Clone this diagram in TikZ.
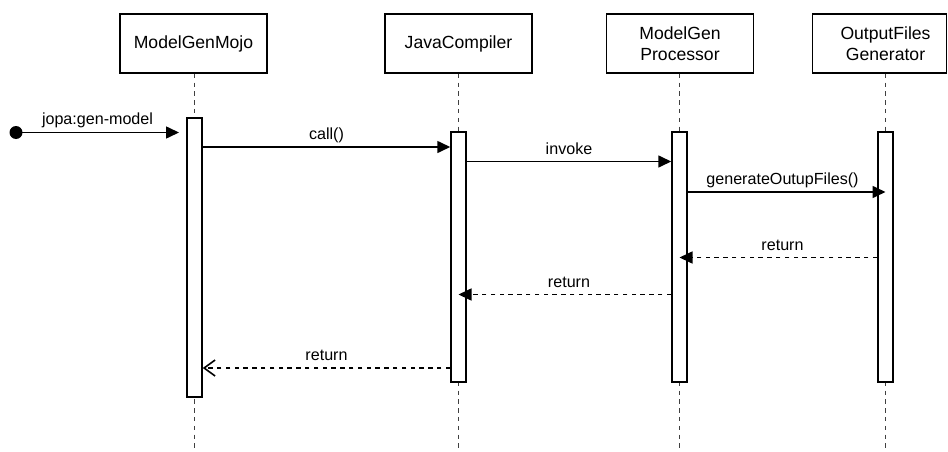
\documentclass[tikz,border=0pt]{standalone}
\usepackage{fontspec}
\setmainfont{Liberation Sans}
\usetikzlibrary{arrows.meta,calc}
\tikzset{
  actor/.style={draw, line width=1.5pt, minimum width=147pt, minimum height=59pt, inner sep=0pt, align=center, font=\fontsize{17.6}{20.5}\selectfont},
  bar/.style={draw, line width=1.5pt, fill=white, minimum width=15pt, inner sep=0pt},
  life/.style={line width=1.5pt, dash pattern=on 4.4pt off 4.4pt, draw=black!75},
  msg/.style={line width=1.6pt, -{Triangle[length=13pt,width=12pt]}},
  ret/.style={line width=1.6pt, dash pattern=on 4.4pt off 4.4pt, -{Triangle[length=13pt,width=12pt]}},
  retopen/.style={line width=1.6pt, dash pattern=on 4.4pt off 4.4pt, -{Straight Barb[length=11pt,width=16pt,line width=1.6pt]}},
  lbl/.style={font=\fontsize{16.1}{19}\selectfont, inner sep=0pt, anchor=base}
}
\begin{document}
\begin{tikzpicture}[x=1pt,y=-1pt]
\useasboundingbox (0,0) rectangle (948,452);
% actors
\node[actor] (a1) at (193.5,43.5) {ModelGenMojo};
\node[actor] (a2) at (458.5,43.5) {JavaCompiler};
\node[actor] (a3) at (680,43.5) {ModelGen\\Processor};
\node[actor, minimum width=134pt] (a4) at (879.5,43.5) {\hspace*{12pt}OutputFiles\\\hspace*{12pt}Generator};
% lifeline bottoms
\coordinate (e1) at (194.5,452);
\coordinate (e2) at (458.5,452);
\coordinate (e3) at (679.5,452);
\coordinate (e4) at (885.5,452);
\draw[life] (e1 |- a1.south) -- (e1);
\draw[life] (e2 |- a2.south) -- (e2);
\draw[life] (e3 |- a3.south) -- (e3);
\draw[life] (e4 |- a4.south) -- (e4);
% activation bars
\node[bar, minimum height=279pt] (b1) at (194.5,257.5) {};
\node[bar, minimum height=250pt] (b2) at (458.5,257) {};
\node[bar, minimum height=250pt] (b3) at (679.5,257) {};
\node[bar, minimum height=250pt] (b4) at (885.5,257) {};
% found message
\coordinate (start) at (16,132.5);
\coordinate (m0) at (179,132.5);
\fill (start) circle (6.5pt);
\draw[msg] (start) -- (m0);
\node[lbl] (l0) at ($(start)!0.5!(m0)+(0,-8)$) {jopa:gen-model};
% messages
\draw[msg] (b1.east |- 0,147) -- (b2.west |- 0,147);
\node[lbl] (l1) at ($(b1.east |- 0,147)!0.5!(b2.west |- 0,147)+(0,-8)$) {call()};
\draw[msg] (b2.east |- 0,161.5) -- (b3.west |- 0,161.5);
\node[lbl] (l2) at ($(b2.east |- 0,161.5)!0.5!(b3.west |- 0,161.5)+(0,-7)$) {invoke};
\draw[msg] (b3.east |- 0,192) -- (b4.center |- 0,192);
\node[lbl] (l3) at ($(b3.east |- 0,192)!0.5!(b4.west |- 0,192)+(0,-8)$) {generateOutupFiles()};
\draw[ret] (b4.west |- 0,257.5) -- (b3.center |- 0,257.5);
\node[lbl] (l4) at ($(b4.west |- 0,257.5)!0.5!(b3.east |- 0,257.5)+(0,-7)$) {return};
\draw[ret] (b3.west |- 0,294.5) -- (b2.center |- 0,294.5);
\node[lbl] (l5) at ($(b3.west |- 0,294.5)!0.5!(b2.east |- 0,294.5)+(0,-7)$) {return};
\draw[retopen] (b2.west |- 0,368) -- (b1.east |- 0,368);
\node[lbl] (l6) at ($(b2.west |- 0,368)!0.5!(b1.east |- 0,368)+(0,-8)$) {return};
\end{tikzpicture}
\end{document}
